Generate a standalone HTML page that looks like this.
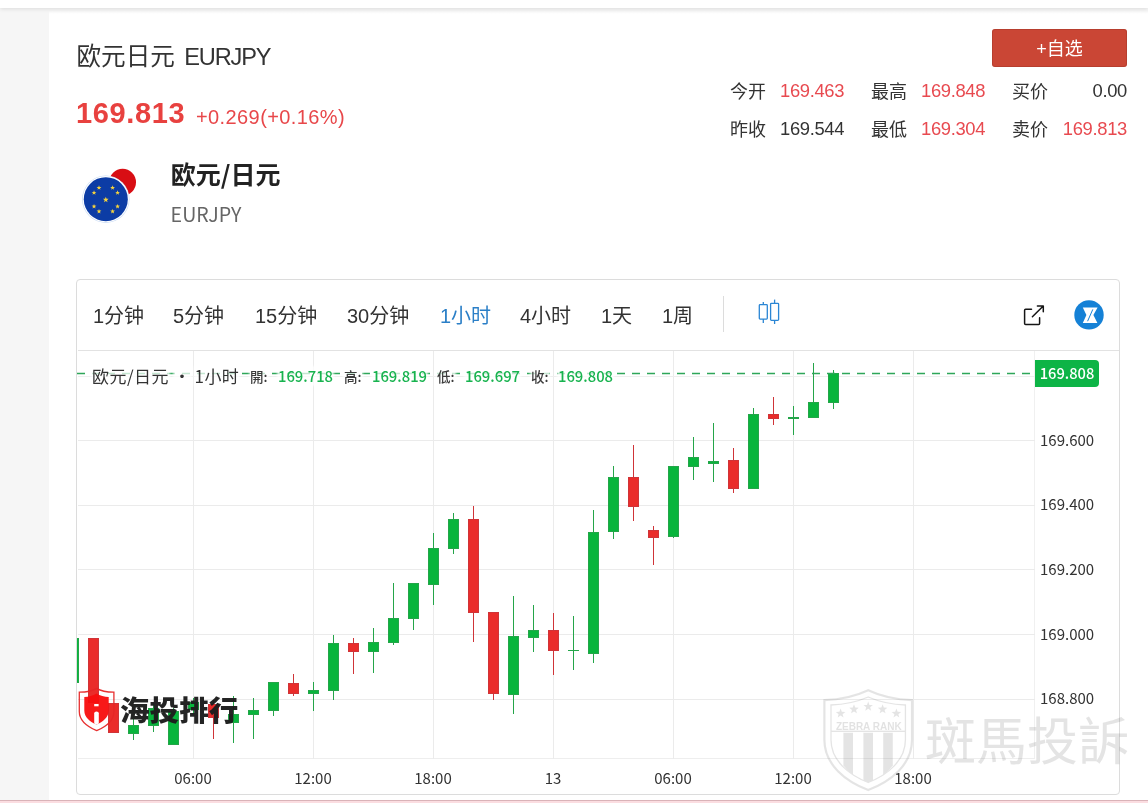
<!DOCTYPE html>
<html lang="zh-CN">
<head>
<meta charset="utf-8">
<title>欧元日元 EURJPY</title>
<style>
*{box-sizing:border-box;margin:0;padding:0}
html,body{width:1148px;height:803px;overflow:hidden}
body{position:relative;background:#f6f6f6;font-family:"Liberation Sans","Noto Sans CJK SC",sans-serif;color:#333}
.abs{position:absolute;white-space:nowrap}
#topbar{left:0;top:0;width:1148px;height:8px;background:#fff;box-shadow:0 1px 4px rgba(0,0,0,.11);z-index:5}
#card{left:49px;top:11px;width:1099px;height:792px;background:linear-gradient(#f7f7f7,#fff 3px)}
#bottom{left:0;top:799.5px;width:1148px;height:4px;background:#fbdde1;border-top:1px solid #d9b3b8;z-index:9}
#title{left:76.5px;top:39.7px;font-size:24.6px;line-height:34px;color:#333}
#title .en{font-size:23.6px;letter-spacing:-1.15px;margin-left:2.5px}
#price{left:76px;top:94.3px;font-size:29px;line-height:38px;font-weight:700;color:#e8413f;letter-spacing:.65px}
#chg{left:196px;top:101.5px;font-size:20px;line-height:30px;color:#e8474a;letter-spacing:.4px}
#name{left:170.8px;top:155px;font-family:"Noto Sans CJK SC","Liberation Sans",sans-serif;font-size:25px;line-height:36px;font-weight:700;color:#222}
#code{left:170.6px;top:200px;font-family:"Noto Sans CJK SC","Liberation Sans",sans-serif;font-size:19.6px;line-height:28px;color:#666}
#btn{left:992px;top:29px;width:135px;height:38px;background:#ca4635;border-radius:3px;box-shadow:inset 0 0 0 1px rgba(150,50,35,.35);color:#fff;font-size:18px;line-height:40px;text-align:center}
.st{font-size:18px;line-height:26px;color:#333}
.st.r{color:#e84a50}
.num{font-size:18.4px;letter-spacing:-.33px}
#box{left:76px;top:279px;width:1044px;height:516px;border:1px solid #dcdcdc;border-radius:4px;background:#fff}
#tbline{left:78px;top:350px;width:1041px;height:1px;background:#e2e2e2}
.tf{top:301.5px;font-size:20px;line-height:28px;color:#333}
.tf.on{color:#2b7fc7}
#divd{left:723px;top:296px;width:1px;height:36px;background:#dcdcdc}
#svgl{left:0;top:0;width:1148px;height:803px;pointer-events:none}
.lg{top:365.4px;line-height:22px;font-family:"Noto Sans CJK SC","Liberation Sans",sans-serif;background:rgba(255,255,255,.72);box-shadow:0 0 2px 1px rgba(255,255,255,.7);height:18px;line-height:18px;margin-top:2px}
.lg.t{font-size:17px;color:#333;letter-spacing:.45px}
.lg.k{font-size:13.5px;color:#3c3c3c;font-weight:500}
.lg.v{font-size:14.8px;color:#18b34f;letter-spacing:0;font-weight:500}
.ax{left:1040px;font-family:"Noto Sans CJK SC","Liberation Sans",sans-serif;font-size:15px;line-height:20px;color:#333}
.tm{top:768px;font-family:"Noto Sans CJK SC","Liberation Sans",sans-serif;font-size:15px;line-height:20px;color:#333;width:60px;text-align:center}
#plab{left:1035px;top:360px;width:64px;height:27px;background:#0db446;border-radius:0 4px 4px 0;color:#fff;font-family:"Noto Sans CJK SC","Liberation Sans",sans-serif;font-weight:500;font-size:14.7px;line-height:25.4px;text-align:center}
#paxis{left:1034px;top:351px;width:1px;height:408px;background:#f0f0f0}
#taxis{left:78px;top:758px;width:957px;height:1px;background:#eee}
#wm1{left:119.8px;top:686.6px;font-family:"Noto Sans CJK SC","Liberation Sans",sans-serif;font-weight:900;font-size:29px;line-height:42px;color:#1d1d1d;opacity:.97;z-index:7;transform:scale(1.02,.965);transform-origin:left center}
#wm2{left:925px;top:701.9px;font-family:"Noto Sans CJK TC","Liberation Sans",sans-serif;font-weight:400;font-size:51px;line-height:72px;color:rgba(110,110,110,.19);z-index:7}
#zr{left:835px;top:720.5px;width:67.5px;text-align:center;font-size:10px;line-height:11px;font-weight:700;color:rgba(110,110,110,.2);z-index:8;letter-spacing:0}
</style>
</head>
<body>
<div id="topbar" class="abs"></div>
<div id="card" class="abs"></div>

<div id="title" class="abs">欧元日元 <span class="en">EURJPY</span></div>
<div id="price" class="abs">169.813</div>
<div id="chg" class="abs">+0.269(+0.16%)</div>
<div id="name" class="abs">欧元/日元</div>
<div id="code" class="abs">EURJPY</div>

<div id="btn" class="abs">+自选</div>

<div class="abs st" style="left:730px;top:79.3px">今开</div>
<div class="abs st r num" style="left:780px;top:78.3px">169.463</div>
<div class="abs st" style="left:871px;top:79.3px">最高</div>
<div class="abs st r num" style="left:921px;top:78.3px">169.848</div>
<div class="abs st" style="left:1012px;top:79.3px">买价</div>
<div class="abs st num" style="right:21px;top:78.3px">0.00</div>
<div class="abs st" style="left:730px;top:117.3px">昨收</div>
<div class="abs st num" style="left:780px;top:116.3px">169.544</div>
<div class="abs st" style="left:871px;top:117.3px">最低</div>
<div class="abs st r num" style="left:921px;top:116.3px">169.304</div>
<div class="abs st" style="left:1012px;top:117.3px">卖价</div>
<div class="abs st r num" style="right:21px;top:116.3px">169.813</div>

<div id="box" class="abs"></div>
<div id="tbline" class="abs"></div>
<div class="abs tf" style="left:93px">1分钟</div>
<div class="abs tf" style="left:173px">5分钟</div>
<div class="abs tf" style="left:255px">15分钟</div>
<div class="abs tf" style="left:347px">30分钟</div>
<div class="abs tf on" style="left:440px">1小时</div>
<div class="abs tf" style="left:520px">4小时</div>
<div class="abs tf" style="left:601px">1天</div>
<div class="abs tf" style="left:662px">1周</div>
<div id="divd" class="abs"></div>
<div id="paxis" class="abs"></div>
<div id="taxis" class="abs"></div>

<svg id="svgl" class="abs" width="1148" height="803" viewBox="0 0 1148 803" shape-rendering="crispEdges">
<defs><clipPath id="cc"><rect x="77" y="351" width="958" height="408"/></clipPath></defs>
<g clip-path="url(#cc)">
<rect x="193" y="351" width="1" height="408" fill="#ebebeb"/>
<rect x="313" y="351" width="1" height="408" fill="#ebebeb"/>
<rect x="433" y="351" width="1" height="408" fill="#ebebeb"/>
<rect x="553" y="351" width="1" height="408" fill="#ebebeb"/>
<rect x="673" y="351" width="1" height="408" fill="#ebebeb"/>
<rect x="793" y="351" width="1" height="408" fill="#ebebeb"/>
<rect x="913" y="351" width="1" height="408" fill="#ebebeb"/>
<rect x="78" y="440" width="957" height="1" fill="#ebebeb"/>
<rect x="78" y="505" width="957" height="1" fill="#ebebeb"/>
<rect x="78" y="569" width="957" height="1" fill="#ebebeb"/>
<rect x="78" y="634" width="957" height="1" fill="#ebebeb"/>
<rect x="78" y="699" width="957" height="1" fill="#ebebeb"/>
<rect x="78" y="376" width="957" height="1" fill="#eeeeee"/>
<rect x="73" y="638" width="1" height="45" fill="#24a549"/>
<rect x="68" y="638" width="11" height="45" fill="#24a549"/>
<rect x="69" y="639" width="9" height="43" fill="#08b53c"/>
<rect x="93" y="638" width="1" height="65" fill="#cf3438"/>
<rect x="88" y="638" width="11" height="65" fill="#cf3438"/>
<rect x="89" y="639" width="9" height="63" fill="#ea2c2a"/>
<rect x="113" y="703" width="1" height="30" fill="#cf3438"/>
<rect x="108" y="703" width="11" height="30" fill="#cf3438"/>
<rect x="109" y="704" width="9" height="28" fill="#ea2c2a"/>
<rect x="133" y="719" width="1" height="21" fill="#24a549"/>
<rect x="128" y="725" width="11" height="9" fill="#24a549"/>
<rect x="129" y="726" width="9" height="7" fill="#08b53c"/>
<rect x="153" y="703" width="1" height="29" fill="#24a549"/>
<rect x="148" y="708" width="11" height="18" fill="#24a549"/>
<rect x="149" y="709" width="9" height="16" fill="#08b53c"/>
<rect x="173" y="708" width="1" height="37" fill="#24a549"/>
<rect x="168" y="711" width="11" height="34" fill="#24a549"/>
<rect x="169" y="712" width="9" height="32" fill="#08b53c"/>
<rect x="193" y="698" width="1" height="16" fill="#24a549"/>
<rect x="188" y="702" width="11" height="8" fill="#24a549"/>
<rect x="189" y="703" width="9" height="6" fill="#08b53c"/>
<rect x="213" y="700" width="1" height="39" fill="#cf3438"/>
<rect x="208" y="704" width="11" height="14" fill="#cf3438"/>
<rect x="209" y="705" width="9" height="12" fill="#ea2c2a"/>
<rect x="233" y="696" width="1" height="47" fill="#24a549"/>
<rect x="228" y="714" width="11" height="9" fill="#24a549"/>
<rect x="229" y="715" width="9" height="7" fill="#08b53c"/>
<rect x="253" y="698" width="1" height="41" fill="#24a549"/>
<rect x="248" y="710" width="11" height="5" fill="#24a549"/>
<rect x="249" y="711" width="9" height="3" fill="#08b53c"/>
<rect x="273" y="682" width="1" height="34" fill="#24a549"/>
<rect x="268" y="682" width="11" height="29" fill="#24a549"/>
<rect x="269" y="683" width="9" height="27" fill="#08b53c"/>
<rect x="293" y="674" width="1" height="22" fill="#cf3438"/>
<rect x="288" y="683" width="11" height="11" fill="#cf3438"/>
<rect x="289" y="684" width="9" height="9" fill="#ea2c2a"/>
<rect x="313" y="682" width="1" height="29" fill="#24a549"/>
<rect x="308" y="690" width="11" height="4" fill="#24a549"/>
<rect x="309" y="691" width="9" height="2" fill="#08b53c"/>
<rect x="333" y="635" width="1" height="65" fill="#24a549"/>
<rect x="328" y="643" width="11" height="48" fill="#24a549"/>
<rect x="329" y="644" width="9" height="46" fill="#08b53c"/>
<rect x="353" y="638" width="1" height="36" fill="#cf3438"/>
<rect x="348" y="643" width="11" height="9" fill="#cf3438"/>
<rect x="349" y="644" width="9" height="7" fill="#ea2c2a"/>
<rect x="373" y="628" width="1" height="45" fill="#24a549"/>
<rect x="368" y="642" width="11" height="10" fill="#24a549"/>
<rect x="369" y="643" width="9" height="8" fill="#08b53c"/>
<rect x="393" y="583" width="1" height="62" fill="#24a549"/>
<rect x="388" y="618" width="11" height="25" fill="#24a549"/>
<rect x="389" y="619" width="9" height="23" fill="#08b53c"/>
<rect x="413" y="583" width="1" height="47" fill="#24a549"/>
<rect x="408" y="583" width="11" height="36" fill="#24a549"/>
<rect x="409" y="584" width="9" height="34" fill="#08b53c"/>
<rect x="433" y="533" width="1" height="72" fill="#24a549"/>
<rect x="428" y="548" width="11" height="37" fill="#24a549"/>
<rect x="429" y="549" width="9" height="35" fill="#08b53c"/>
<rect x="453" y="513" width="1" height="41" fill="#24a549"/>
<rect x="448" y="519" width="11" height="30" fill="#24a549"/>
<rect x="449" y="520" width="9" height="28" fill="#08b53c"/>
<rect x="473" y="506" width="1" height="136" fill="#cf3438"/>
<rect x="468" y="519" width="11" height="94" fill="#cf3438"/>
<rect x="469" y="520" width="9" height="92" fill="#ea2c2a"/>
<rect x="493" y="612" width="1" height="88" fill="#cf3438"/>
<rect x="488" y="612" width="11" height="82" fill="#cf3438"/>
<rect x="489" y="613" width="9" height="80" fill="#ea2c2a"/>
<rect x="513" y="596" width="1" height="118" fill="#24a549"/>
<rect x="508" y="636" width="11" height="59" fill="#24a549"/>
<rect x="509" y="637" width="9" height="57" fill="#08b53c"/>
<rect x="533" y="605" width="1" height="47" fill="#24a549"/>
<rect x="528" y="630" width="11" height="8" fill="#24a549"/>
<rect x="529" y="631" width="9" height="6" fill="#08b53c"/>
<rect x="553" y="613" width="1" height="62" fill="#cf3438"/>
<rect x="548" y="630" width="11" height="21" fill="#cf3438"/>
<rect x="549" y="631" width="9" height="19" fill="#ea2c2a"/>
<rect x="573" y="616" width="1" height="54" fill="#24a549"/>
<rect x="568" y="650" width="11" height="1" fill="#24a549"/>
<rect x="593" y="510" width="1" height="153" fill="#24a549"/>
<rect x="588" y="532" width="11" height="122" fill="#24a549"/>
<rect x="589" y="533" width="9" height="120" fill="#08b53c"/>
<rect x="613" y="466" width="1" height="73" fill="#24a549"/>
<rect x="608" y="477" width="11" height="55" fill="#24a549"/>
<rect x="609" y="478" width="9" height="53" fill="#08b53c"/>
<rect x="633" y="445" width="1" height="76" fill="#cf3438"/>
<rect x="628" y="477" width="11" height="30" fill="#cf3438"/>
<rect x="629" y="478" width="9" height="28" fill="#ea2c2a"/>
<rect x="653" y="526" width="1" height="39" fill="#cf3438"/>
<rect x="648" y="530" width="11" height="8" fill="#cf3438"/>
<rect x="649" y="531" width="9" height="6" fill="#ea2c2a"/>
<rect x="673" y="466" width="1" height="72" fill="#24a549"/>
<rect x="668" y="466" width="11" height="71" fill="#24a549"/>
<rect x="669" y="467" width="9" height="69" fill="#08b53c"/>
<rect x="693" y="437" width="1" height="43" fill="#24a549"/>
<rect x="688" y="457" width="11" height="10" fill="#24a549"/>
<rect x="689" y="458" width="9" height="8" fill="#08b53c"/>
<rect x="713" y="423" width="1" height="59" fill="#24a549"/>
<rect x="708" y="461" width="11" height="3" fill="#24a549"/>
<rect x="709" y="462" width="9" height="1" fill="#08b53c"/>
<rect x="733" y="448" width="1" height="45" fill="#cf3438"/>
<rect x="728" y="460" width="11" height="29" fill="#cf3438"/>
<rect x="729" y="461" width="9" height="27" fill="#ea2c2a"/>
<rect x="753" y="408" width="1" height="81" fill="#24a549"/>
<rect x="748" y="414" width="11" height="75" fill="#24a549"/>
<rect x="749" y="415" width="9" height="73" fill="#08b53c"/>
<rect x="773" y="397" width="1" height="28" fill="#cf3438"/>
<rect x="768" y="414" width="11" height="5" fill="#cf3438"/>
<rect x="769" y="415" width="9" height="3" fill="#ea2c2a"/>
<rect x="793" y="406" width="1" height="29" fill="#24a549"/>
<rect x="788" y="417" width="11" height="2" fill="#24a549"/>
<rect x="813" y="363" width="1" height="55" fill="#24a549"/>
<rect x="808" y="402" width="11" height="16" fill="#24a549"/>
<rect x="809" y="403" width="9" height="14" fill="#08b53c"/>
<rect x="833" y="370" width="1" height="39" fill="#24a549"/>
<rect x="828" y="373" width="11" height="30" fill="#24a549"/>
<rect x="829" y="374" width="9" height="28" fill="#08b53c"/>
<line x1="77" y1="373.5" x2="1035" y2="373.5" stroke="#2ea659" stroke-width="1.3" stroke-dasharray="8 7" shape-rendering="auto"/>
</g>
</svg>

<svg class="abs" style="left:0;top:0" width="1148" height="803" viewBox="0 0 1148 803">
<!-- Japan flag circle -->
<circle cx="122.6" cy="182.2" r="13.4" fill="#d80e14"/>
<!-- EU flag circle -->
<circle cx="105.8" cy="199.2" r="23.7" fill="#c9dcf5"/>
<circle cx="105.8" cy="199.2" r="23.1" fill="#ffffff"/>
<circle cx="105.8" cy="199.2" r="22" fill="#0c3ca5"/>
<g fill="#f6d33c" id="stars">
<polygon points="105.80,196.80 106.54,198.78 108.65,198.87 107.00,200.19 107.56,202.23 105.80,201.06 104.04,202.23 104.60,200.19 102.95,198.87 105.06,198.78"/>
<polygon points="112.60,185.32 113.22,186.97 114.98,187.05 113.60,188.15 114.07,189.84 112.60,188.87 111.13,189.84 111.60,188.15 110.22,187.05 111.98,186.97"/>
<polygon points="117.58,190.30 118.20,191.95 119.96,192.03 118.58,193.12 119.05,194.82 117.58,193.85 116.11,194.82 116.58,193.12 115.20,192.03 116.96,191.95"/>
<polygon points="117.58,203.90 118.20,205.55 119.96,205.63 118.58,206.72 119.05,208.42 117.58,207.45 116.11,208.42 116.58,206.72 115.20,205.63 116.96,205.55"/>
<polygon points="112.60,208.88 113.22,210.53 114.98,210.61 113.60,211.70 114.07,213.40 112.60,212.43 111.13,213.40 111.60,211.70 110.22,210.61 111.98,210.53"/>
<polygon points="99.00,208.88 99.62,210.53 101.38,210.61 100.00,211.70 100.47,213.40 99.00,212.43 97.53,213.40 98.00,211.70 96.62,210.61 98.38,210.53"/>
<polygon points="94.02,203.90 94.64,205.55 96.40,205.63 95.02,206.72 95.49,208.42 94.02,207.45 92.55,208.42 93.02,206.72 91.64,205.63 93.40,205.55"/>
<polygon points="94.02,190.30 94.64,191.95 96.40,192.03 95.02,193.12 95.49,194.82 94.02,193.85 92.55,194.82 93.02,193.12 91.64,192.03 93.40,191.95"/>
<polygon points="99.00,185.32 99.62,186.97 101.38,187.05 100.00,188.15 100.47,189.84 99.00,188.87 97.53,189.84 98.00,188.15 96.62,187.05 98.38,186.97"/>
</g>
<!-- candle chart type icon -->
<g fill="#fff" stroke="#2b86d4" stroke-width="1.3">
<line x1="763.3" y1="302" x2="763.3" y2="323"/>
<rect x="759.3" y="304.6" width="8" height="14.5" rx="0.8"/>
<line x1="774.6" y1="299.6" x2="774.6" y2="324"/>
<rect x="770.6" y="303.3" width="8" height="17" rx="0.8"/>
</g>
<!-- external link icon -->
<g fill="none" stroke="#151515" stroke-width="1.5" stroke-linecap="round" stroke-linejoin="round">
<path d="M1031.5 309.3H1025.6Q1024.6 309.3 1024.6 310.3V323.4Q1024.6 324.4 1025.6 324.4H1038.6Q1039.6 324.4 1039.6 323.4V317.8"/>
<path d="M1032.4 316.8L1043 306.2M1037.4 305.9H1043.3V311.8"/>
</g>
<!-- Z logo -->
<circle cx="1089" cy="314.9" r="14.7" fill="#1581d6"/>
<path d="M1082.8 307.5H1097.6L1093.4 315.1L1097.4 322.9H1082.8L1086.4 315.1Z" fill="#fff"/>
<line x1="1092.8" y1="309.4" x2="1087.6" y2="321.2" stroke="#1581d6" stroke-width="1"/>

</svg>

<div class="abs lg t" style="left:92px">欧元/日元</div>
<div class="abs lg t" style="left:173.5px">·</div>
<div class="abs lg t" style="left:194.5px">1小时</div>
<div class="abs lg k" style="left:250px">開:</div>
<div class="abs lg v" style="left:278px">169.718</div>
<div class="abs lg k" style="left:344px">高:</div>
<div class="abs lg v" style="left:372px">169.819</div>
<div class="abs lg k" style="left:437px">低:</div>
<div class="abs lg v" style="left:465px">169.697</div>
<div class="abs lg k" style="left:531px">收:</div>
<div class="abs lg v" style="left:558px">169.808</div>

<div id="plab" class="abs">169.808</div>
<div class="abs ax" style="top:430.3px">169.600</div>
<div class="abs ax" style="top:494.3px">169.400</div>
<div class="abs ax" style="top:559.3px">169.200</div>
<div class="abs ax" style="top:624.3px">169.000</div>
<div class="abs ax" style="top:688.3px">168.800</div>

<div class="abs tm" style="left:163px">06:00</div>
<div class="abs tm" style="left:283px">12:00</div>
<div class="abs tm" style="left:403px">18:00</div>
<div class="abs tm" style="left:523px">13</div>
<div class="abs tm" style="left:643px">06:00</div>
<div class="abs tm" style="left:763px">12:00</div>
<div class="abs tm" style="left:883px">18:00</div>

<svg class="abs" style="left:0;top:0;z-index:6" width="1148" height="803" viewBox="0 0 1148 803">
<!-- red shield logo -->
<g opacity="0.95">
<path d="M96.7 688.4C92 691.4 85.5 692.2 79.3 692.2V711.5C79.3 721 88 727 96.7 730.6C105.4 727 113.9 721 113.9 711.5V692.2C107.8 692.2 101.4 691.4 96.7 688.4Z" fill="none" stroke="#e62626" stroke-width="1.3"/>
<path d="M96.5 693.6C93 695.8 88.5 697 84.3 697V710.5C84.3 717.5 90 721.8 96.5 724.6C103 721.8 108.7 717.5 108.7 710.5V697C104.5 697 100 695.8 96.5 693.6Z" fill="#f80d0d"/>
<rect x="94.2" y="704" width="4.4" height="2.3" fill="#fff"/>
<path d="M94.2 713.2Q94.2 711.6 96.5 711.6Q98.8 711.6 98.8 713.2V723.4L96.5 724.5L94.2 723.4Z" fill="#fff"/>
</g>
<!-- grey zebra shield watermark -->
<g opacity="0.18">
<path d="M868.2 690.3C854 697 838 699.8 824.4 700.2V740C824.4 765 846 781.5 868.2 790C890.4 781.5 912 765 912 740V700.2C898.4 699.8 882.4 697 868.2 690.3Z" fill="none" stroke="#6e6e6e" stroke-width="2.2"/>
<path d="M868.2 697C856 702.3 843 704.6 831 705V740C831 760.5 849 775 868.2 782.5C887.4 775 905.4 760.5 905.4 740V705C893.4 704.6 880.4 702.3 868.2 697Z" fill="none" stroke="#6e6e6e" stroke-width="1.3"/>
<rect x="831" y="730.6" width="74.4" height="1.4" fill="#6e6e6e"/>
<path d="M843.4 732.7H853V775.2Q847.5 771 843.4 765.5Z" fill="#6e6e6e"/>
<path d="M863.4 732.7H873V780.5L868.2 782.5L863.4 780.5Z" fill="#6e6e6e"/>
<path d="M883.2 732.7H892.8V765.5Q888.7 771 883.2 775.2Z" fill="#6e6e6e"/>
<g fill="#6e6e6e">
<polygon points="840.60,708.50 841.83,711.80 845.36,711.95 842.60,714.15 843.54,717.55 840.60,715.60 837.66,717.55 838.60,714.15 835.84,711.95 839.37,711.80"/>
<polygon points="854.00,704.30 855.23,707.60 858.76,707.75 856.00,709.95 856.94,713.35 854.00,711.40 851.06,713.35 852.00,709.95 849.24,707.75 852.77,707.60"/>
<polygon points="868.20,701.60 869.43,704.90 872.96,705.05 870.20,707.25 871.14,710.65 868.20,708.70 865.26,710.65 866.20,707.25 863.44,705.05 866.97,704.90"/>
<polygon points="882.60,704.30 883.83,707.60 887.36,707.75 884.60,709.95 885.54,713.35 882.60,711.40 879.66,713.35 880.60,709.95 877.84,707.75 881.37,707.60"/>
<polygon points="896.40,708.50 897.63,711.80 901.16,711.95 898.40,714.15 899.34,717.55 896.40,715.60 893.46,717.55 894.40,714.15 891.64,711.95 895.17,711.80"/>
</g>
</g>

</svg>
<div id="wm1" class="abs">海投排行</div>
<div id="wm2" class="abs">斑馬投訴</div>
<div id="zr" class="abs">ZEBRA RANK</div>

<div id="bottom" class="abs"></div>
</body>
</html>
